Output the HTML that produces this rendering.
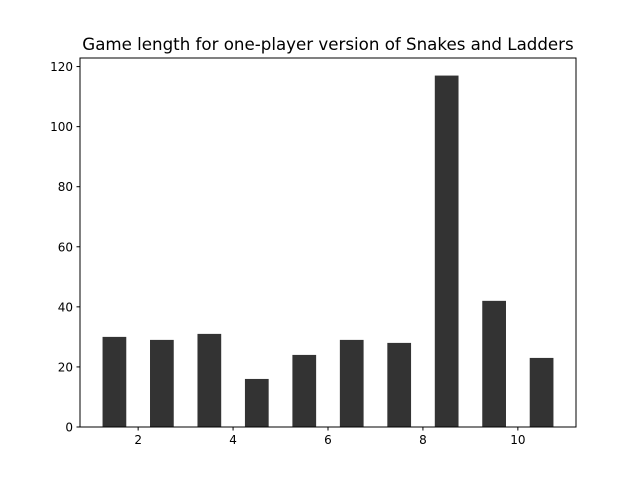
<!DOCTYPE html>
<html><head><meta charset="utf-8"><style>
body{margin:0;background:#fff;font-family:"Liberation Sans","DejaVu Sans",sans-serif}
</style></head><body>
<svg id="chart" width="640" height="480" xmlns="http://www.w3.org/2000/svg">
<rect width="640" height="480" fill="#fff"/>
<text x="328" y="50" text-anchor="middle" font-size="16.67" font-family="DejaVu Sans, sans-serif">Game length for one-player version of Snakes and Ladders</text>
<g id="bars"></g>
<g id="axes"></g>
</svg>
<script>
const categories=[1.5,2.5,3.5,4.5,5.5,6.5,7.5,8.5,9.5,10.5];
const values=[30,29,31,16,24,29,28,117,42,23];
const xTicks=[2,4,6,8,10];
const yTicks=[0,20,40,60,80,100,120];
const L=80,R=576,T=58,B=427;
const xmin=0.775,xmax=11.225,ymin=0,ymax=122.85;
const xs=v=>L+(v-xmin)/(xmax-xmin)*(R-L);
const ys=v=>B-(v-ymin)/(ymax-ymin)*(B-T);
const NS="http://www.w3.org/2000/svg";
const bars=document.getElementById('bars'),axes=document.getElementById('axes');
function mk(t,a,p){const e=document.createElementNS(NS,t);for(const k in a)e.setAttribute(k,a[k]);p.appendChild(e);return e;}
categories.forEach((c,i)=>{
 const x0=xs(c-0.25),x1=xs(c+0.25);
 const r=mk('rect',{x:x0,y:ys(values[i]),width:x1-x0,height:ys(0)-ys(values[i]),fill:'#333333'},bars);
 
 
});
const frame=mk('rect',{x:L,y:T,width:R-L,height:B-T,fill:'none',stroke:'#000','stroke-width':1},axes);


xTicks.forEach(t=>{
 const x=xs(t);
 mk('line',{x1:x,x2:x,y1:B,y2:B+3.5,stroke:'#000'},axes);
 const tx=mk('text',{x:x,y:B+17,'text-anchor':'middle','font-size':'12','font-family':'DejaVu Sans, sans-serif'},axes);
 tx.textContent=t;
 
 
});
yTicks.forEach(t=>{
 const y=ys(t);
 mk('line',{x1:L-3.5,x2:L,y1:y,y2:y,stroke:'#000'},axes);
 const tx=mk('text',{x:L-7,y:y+4.5,'text-anchor':'end','font-size':'12','font-family':'DejaVu Sans, sans-serif'},axes);
 tx.textContent=t;
 
 
});
</script>
</body></html>
